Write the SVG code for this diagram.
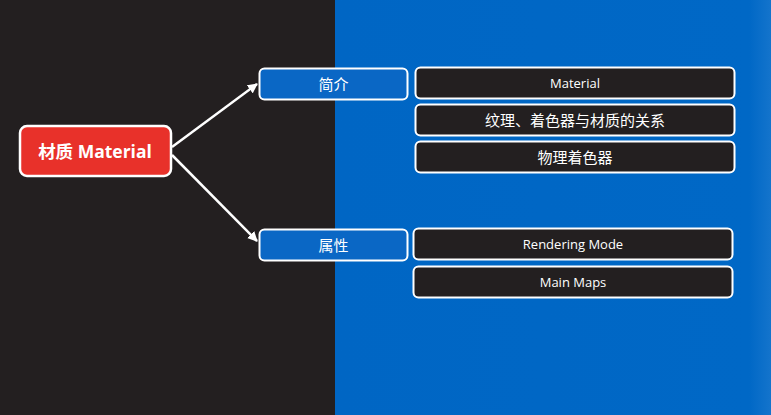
<svg xmlns="http://www.w3.org/2000/svg" width="771" height="415" viewBox="0 0 771 415">
<defs>
<marker id="ah" viewBox="0 0 10 10" refX="9" refY="5" markerWidth="4" markerHeight="4" orient="auto" markerUnits="strokeWidth">
<path d="M0,0 L10,5 L0,10 z" fill="#ffffff"/>
</marker>
<linearGradient id="bg" x1="0" y1="0" x2="1" y2="0">
<stop offset="0" stop-color="#0066c4"/>
<stop offset="0.95" stop-color="#0068c6"/>
<stop offset="1" stop-color="#1474cc"/>
</linearGradient>
</defs>
<style>
.txt{font-family:"Open Sans","Noto Sans","Noto Sans CJK SC",sans-serif;fill:#ffffff;text-anchor:middle;dominant-baseline:central}
.leaf rect{fill:#231f20;stroke:#ffffff;stroke-width:2}
.mid rect{fill:#0a67c5;stroke:#ffffff;stroke-width:2}
.leaf text{font-size:13px}
.leaf text.cjk{font-size:15px}
.mid text{font-size:15px}
.conn{stroke:#ffffff;stroke-width:2.5;fill:none;marker-end:url(#ah)}
</style>
<rect x="0" y="0" width="335" height="415" fill="#231f20"/>
<rect x="335" y="0" width="436" height="415" fill="url(#bg)"/>
<g id="connectors">
<line class="conn" x1="172" y1="147" x2="257" y2="84"/>
<line class="conn" x1="172" y1="155" x2="257" y2="241"/>
</g>
<g id="root">
<rect x="20" y="126" width="151" height="50" rx="7" fill="#e8312a" stroke="#ffffff" stroke-width="2.5"/>
<text class="txt" x="95" y="151" font-size="17.5" font-weight="bold">材质 Material</text>
</g>
<g id="intro" class="mid">
<rect x="259.5" y="68.5" width="148" height="31" rx="5"/>
<text class="txt" x="333.5" y="84">简介</text>
</g>
<g id="props" class="mid">
<rect x="259.5" y="229.5" width="148" height="31" rx="5"/>
<text class="txt" x="333.5" y="245">属性</text>
</g>
<g id="leaf-material" class="leaf">
<rect x="415.5" y="67.5" width="319" height="31" rx="5"/>
<text class="txt" x="575" y="83">Material</text>
</g>
<g id="leaf-relation" class="leaf">
<rect x="415.5" y="104.5" width="319" height="31" rx="5"/>
<text class="txt cjk" x="575" y="120">纹理、着色器与材质的关系</text>
</g>
<g id="leaf-physical" class="leaf">
<rect x="415.5" y="141.5" width="319" height="31" rx="5"/>
<text class="txt cjk" x="575" y="157">物理着色器</text>
</g>
<g id="leaf-rendering" class="leaf">
<rect x="413.5" y="228.5" width="319" height="31" rx="5"/>
<text class="txt" x="573" y="244">Rendering Mode</text>
</g>
<g id="leaf-mainmaps" class="leaf">
<rect x="413.5" y="266.5" width="319" height="31" rx="5"/>
<text class="txt" x="573" y="282">Main Maps</text>
</g>
</svg>
